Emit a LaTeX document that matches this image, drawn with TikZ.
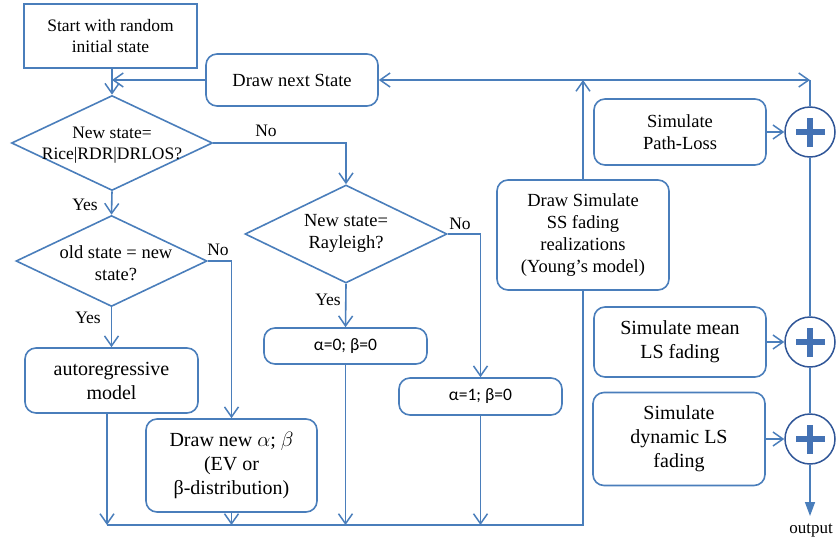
\documentclass[tikz,border=0pt]{standalone}
\usepackage{fontspec}
\setmainfont{Liberation Serif}
\newfontfamily\calfont{Carlito}
\usetikzlibrary{arrows.meta,shapes.geometric,calc}
\definecolor{flow}{RGB}{74,126,187}
\definecolor{ring}{RGB}{47,85,151}
\definecolor{plusc}{RGB}{68,114,180}
\tikzset{
  txt/.style={inner sep=0pt, align=center, font=\fontsize{18.5}{22}\selectfont},
  bigtxt/.style={txt, font=\fontsize{20}{24}\selectfont},
  smalltxt/.style={txt, font=\fontsize{17.5}{21}\selectfont},
  plainbox/.style={draw=flow, line width=1.6pt, txt},
  rbox/.style={plainbox, rounded corners=11pt},
  decision/.style={diamond, draw=flow, line width=1.6pt, inner sep=0pt},
  adder/.style={circle, draw=ring, fill=white, line width=1.5pt, minimum size=50pt, inner sep=0pt},
  conn/.style={draw=flow, line width=1.6pt},
  arr/.style={conn, -{Straight Barb[length=10pt,width=14pt,line width=1.5pt]}},
  outarr/.style={conn, -{Triangle[length=14pt,width=10pt]}},
  lbl/.style={smalltxt},
}
\newcommand{\plusmark}[1]{%
  \fill[plusc] ($(#1)+(-14.5,-3)$) rectangle ($(#1)+(14.5,3)$);
  \fill[plusc] ($(#1)+(-3,-14.5)$) rectangle ($(#1)+(3,14.5)$);}
\begin{document}
\begin{tikzpicture}[x=1pt,y=-1pt]
\useasboundingbox (0,0) rectangle (837,544);

% process boxes
\node[plainbox, smalltxt, minimum width=173pt, minimum height=64pt] (start) at (110.5,36) {Start with random\\initial state};
\node[rbox, minimum width=172pt, minimum height=52pt] (next) at (292,80) {Draw next State};
\node[rbox, bigtxt, minimum width=173pt, minimum height=65pt] (auto) at (111.5,380.5) {autoregressive\\model};
\node[rbox, bigtxt, minimum width=171pt, minimum height=93pt] (drawnew) at (231.5,465.5) {Draw new $\alpha$; $\beta$\\(EV or\\β-distribution)};
\node[rbox, font=\calfont\fontsize{17.5}{21}\selectfont, minimum width=163pt, minimum height=36pt] (a0) at (345.5,346) {α=0; β=0};
\node[rbox, font=\calfont\fontsize{17.5}{21}\selectfont, minimum width=163pt, minimum height=37pt] (a1) at (480.5,396.5) {α=1; β=0};
\node[rbox, minimum width=172pt, minimum height=110pt] (ss) at (583,235) {Draw Simulate\\SS fading\\realizations\\(Young’s model)};
\node[rbox, minimum width=172pt, minimum height=66pt] (pl) at (680,132) {Simulate\\Path-Loss};
\node[rbox, bigtxt, minimum width=172pt, minimum height=70pt] (lsm) at (680,342) {Simulate mean\\LS fading};
\node[rbox, bigtxt, minimum width=172pt, minimum height=93pt] (lsd) at (679,439) {Simulate\\dynamic LS\\fading};

% decisions
\node[decision, minimum width=201pt, minimum height=95pt] (d1) at (112,143) {};
\node[smalltxt] (d1t) at (112,145) {New state=\\Rice|RDR|DRLOS?};
\node[decision, minimum width=191pt, minimum height=91pt] (d2) at (111.5,261) {};
\node[txt] (d2t) at (116,263) {old state = new\\state?};
\node[decision, minimum width=202pt, minimum height=98pt] (d3) at (346,234) {};
\node[txt] (d3t) at (346,233) {New state=\\Rayleigh?};

% adders
\node[adder] (c1) at (810,132) {};
\node[adder] (c2) at (810,342) {};
\node[adder] (c3) at (810,439) {};
\plusmark{c1}
\plusmark{c2}
\plusmark{c3}

% junction points
\coordinate (busL) at (107,525);
\coordinate (busR) at (ss.south |- busL);
\coordinate (jn) at (ss.north |- next.east);
\coordinate (tr) at (c1.north |- next.east);
\coordinate (outp) at (810,516);

% main flow
\draw[arr] (start.south -| d1.north) -- (d1.north);
\draw[arr] (next.west) -- (next.west -| d1.north);
\draw[arr] (d1.east) -| (d3.north);
\draw[arr] (d1.south) -- (d2.north);
\draw[arr] (d2.east) -| (drawnew.north);
\draw[arr] (d2.south) -- (auto.north);
\draw[arr] (d3.south) -- (a0.north);
\draw[arr] (d3.east) -| (a1.north);

% collect into the bottom bus
\draw[arr] (auto.south -| busL) -- (busL);
\draw[arr] (drawnew.south) -- (drawnew.south |- busL);
\draw[arr] (a0.south) -- (a0.south |- busL);
\draw[arr] (a1.south) -- (a1.south |- busL);
\draw[conn] (busL) -- (busR) -- (ss.south);

% feedback and output chain
\draw[arr] (ss.north) -- (jn);
\draw[arr] (jn) -- (next.east);
\draw[arr] (jn) -- (tr);
\draw[conn] (tr) -- (c1.north);
\draw[arr] (pl.east) -- (c1.west);
\draw[arr] (lsm.east) -- (c2.west);
\draw[arr] (lsd.east) -- (c3.west);
\draw[conn] (c1.south) -- (c2.north);
\draw[conn] (c2.south) -- (c3.north);
\draw[outarr] (c3.south) -- (outp);

% branch labels
\node[lbl] (no1) at (266,131) {No};
\node[lbl] (yes1) at (85,205) {Yes};
\node[lbl] (no2) at (218,250) {No};
\node[lbl] (yes2) at (88,318) {Yes};
\node[lbl] (no3) at (460,224) {No};
\node[lbl] (yes3) at (328,300) {Yes};
\node[txt, font=\fontsize{17}{20}\selectfont] (outl) at (811,531) {output};
\end{tikzpicture}
\end{document}
